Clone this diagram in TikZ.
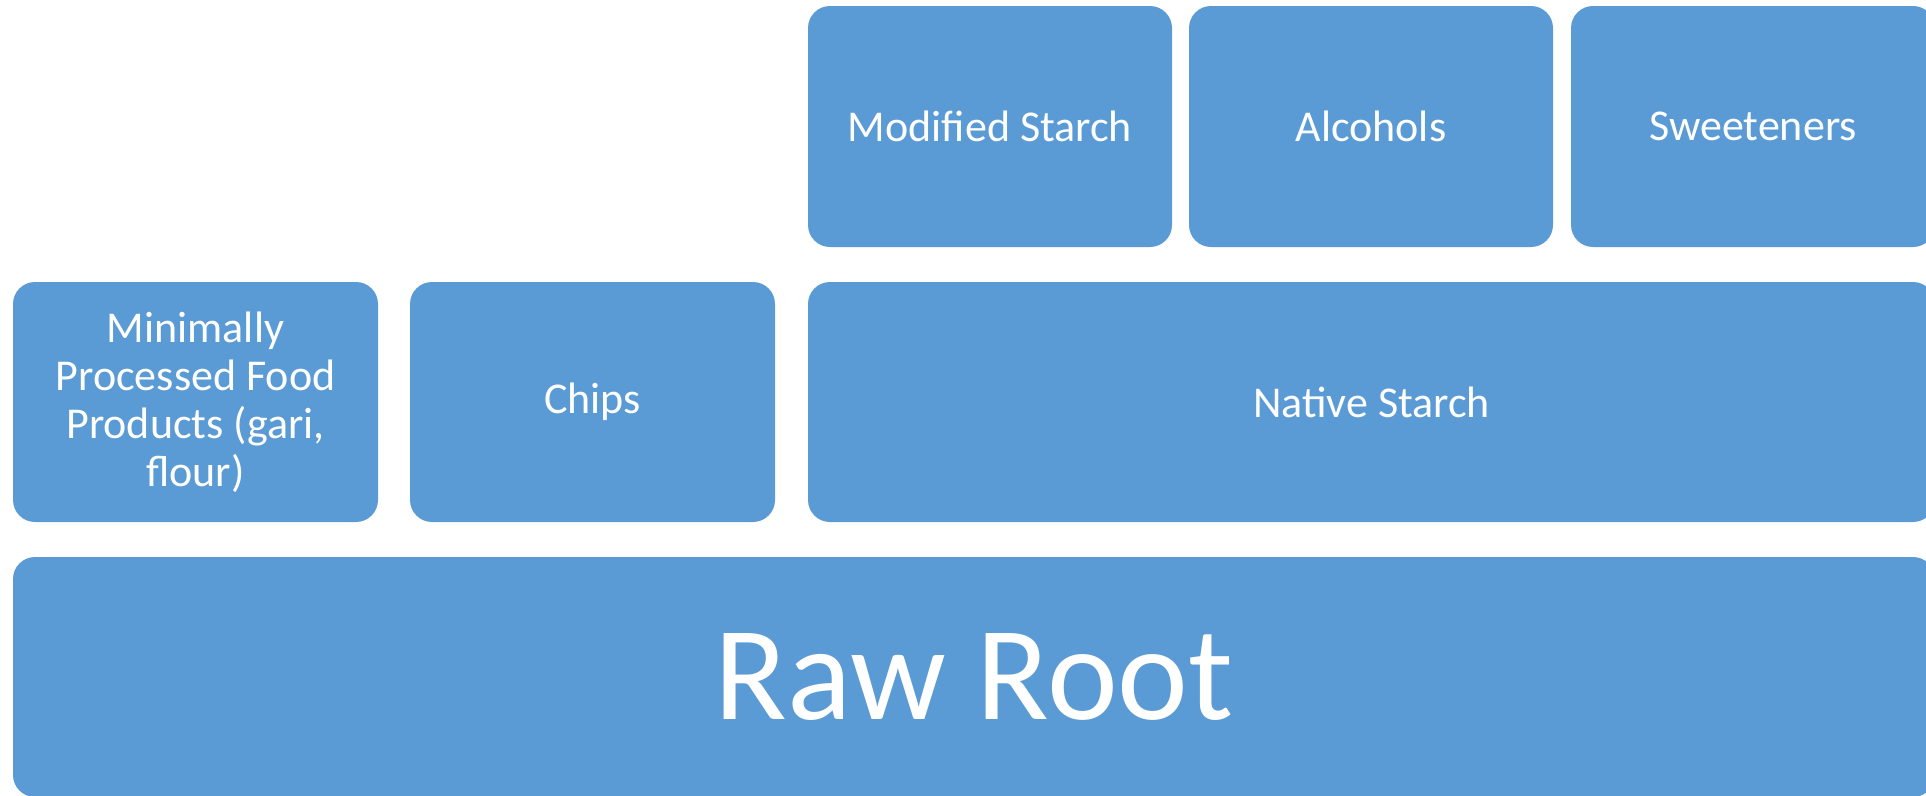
\documentclass[tikz,border=0pt]{standalone}
\usepackage{fontspec}
\setmainfont{Carlito}
\usetikzlibrary{positioning}
\definecolor{rootBlue}{RGB}{91, 155, 213}

\begin{document}
\begin{tikzpicture}[x=1pt, y=-1pt,
    block/.style={fill=rootBlue, text=white, rounded corners=22pt, outer sep=0pt, inner sep=4pt,
                  minimum height=240pt, align=center, font=\fontsize{44}{48}\selectfont}]
    \useasboundingbox (0,0) rectangle (1926,795);
    \clip (0,0) rectangle (1926,795);
    % bottom layer
    \node[block, minimum width=1922pt, font=\fontsize{134}{150}\selectfont] (root) at (974,677) {Raw Root};
    % middle layer
    \node[block, minimum width=365pt, above right=35pt and 0pt of root.north west] (minimal) {Minimally\\Processed Food\\Products (gari,\\flour)};
    \node[block, minimum width=365pt, right=32pt of minimal] (chips) {Chips};
    \node[block, minimum width=1127pt, right=33pt of chips] (native) {Native Starch};
    % top layer
    \node[block, minimum width=364pt, minimum height=241pt, above right=35pt and 0pt of native.north west] (modified) {Modified Starch};
    \node[block, minimum width=364pt, minimum height=241pt, right=17pt of modified] (alcohol) {Alcohols};
    \node[block, minimum width=364pt, minimum height=241pt, right=18pt of alcohol] (sweet) {Sweeteners};
\end{tikzpicture}
\end{document}
